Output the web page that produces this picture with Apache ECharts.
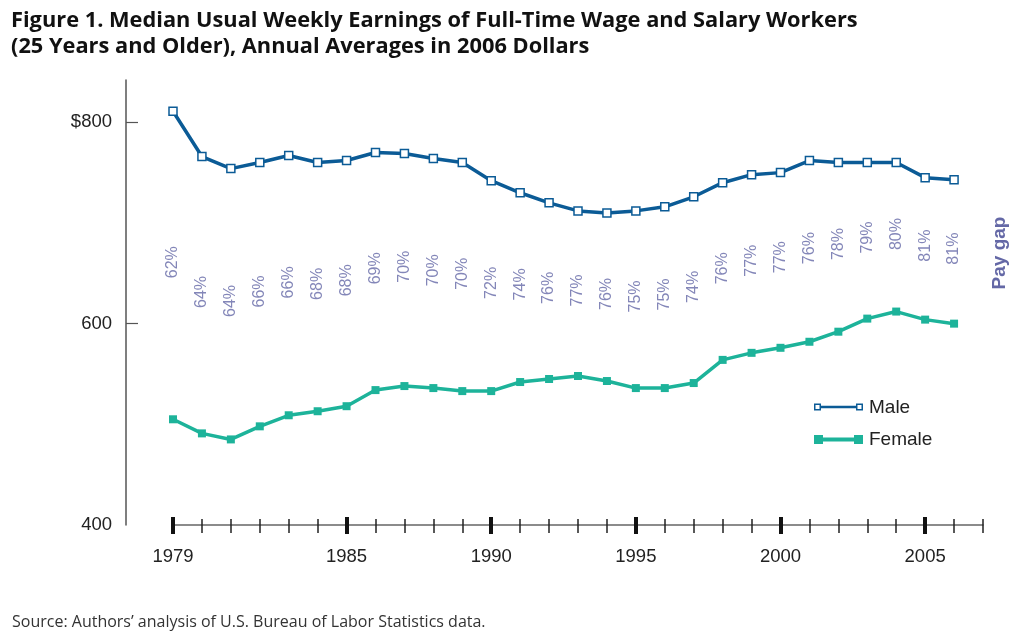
<!DOCTYPE html>
<html><head><meta charset="utf-8">
<script src="https://cdn.jsdelivr.net/npm/echarts@6/dist/echarts.min.js"></script>
<style>html,body{margin:0;padding:0;background:#fff}#c{width:1024px;height:638px}</style>
</head><body><div id="c"></div>
<script>
const years = ['1979','1980','1981','1982','1983','1984','1985','1986','1987','1988','1989','1990','1991','1992','1993','1994','1995','1996','1997','1998','1999','2000','2001','2002','2003','2004','2005','2006','2007'];
const male = [811,766,754,760,767,760,762,770,769,764,760,742,730,720,712,710,712,716,726,740,748,750,762,760,760,760,745,743];
const female = [505,491,485,498,509,513,518,534,538,536,533,533,542,545,548,543,536,536,541,564,571,576,582,592,605,612,604,600];
const payGap = ['62%','64%','64%','66%','66%','68%','68%','69%','70%','70%','70%','72%','74%','76%','77%','76%','75%','75%','74%','76%','77%','77%','76%','78%','79%','80%','81%','81%'];
const yLabelValues = [400,600,800];
const yTickValues = [600,800];
const majorYears = ['1979','1985','1990','1995','2000','2005'];

const MALE_C = '#0b5b96', FEMALE_C = '#1db39a', GAP_C = '#6468a6';
const isMajor = (i, v) => majorYears.includes(years[i]);
const gapPos = male.map((m, i) => (m + female[i]) / 2 + 3);

const chart = echarts.init(document.getElementById('c'));
const maleIcon = 'path://M0,0.5L7,0.5L7,7.5L0,7.5Z M1.5,2L1.5,6L5.5,6L5.5,2Z M7,2.8L42,2.8L42,5.2L7,5.2Z M42,0.5L49,0.5L49,7.5L42,7.5Z M43.5,2L43.5,6L47.5,6L47.5,2Z M0,0L0.01,0Z M49,9L49.01,9Z';
const femaleIcon = 'path://M0,0L9,0L9,9L0,9Z M9,2.5L40,2.5L40,6.5L9,6.5Z M40,0L49,0L49,9L40,9Z';
const baseX = {type:'category', data: years, boundaryGap:false, position:'bottom', gridIndex:0};
chart.setOption({
  animation:false,
  backgroundColor:'#fff',
  title:[{
    text:'Figure 1. Median Usual Weekly Earnings of Full-Time Wage and Salary Workers\n(25 Years and Older), Annual Averages in 2006 Dollars',
    left:6, top:3,
    textStyle:{fontFamily:'Open Sans', fontWeight:'bold', fontSize:21.8, lineHeight:26, color:'#111'}
  },{
    text:'Source: Authors\u2019 analysis of U.S. Bureau of Labor Statistics data.',
    left:7, top:609,
    textStyle:{fontFamily:'Open Sans', fontWeight:'normal', fontSize:16, color:'#333'}
  }],
  grid:{left:173, right:41, top:80, bottom:113, containLabel:false},
  legend:{
    orient:'vertical', left:809, top:393, itemWidth:49, itemHeight:9, itemGap:13,
    textStyle:{fontFamily:'Liberation Sans', fontSize:19, color:'#222', padding:[0,0,0,1]},
    data:[
      {name:'Male', icon:maleIcon, itemStyle:{color:MALE_C, borderWidth:0}},
      {name:'Female', icon:femaleIcon, itemStyle:{color:FEMALE_C, borderWidth:0}}
    ]
  },
  xAxis:[
    Object.assign({}, baseX, {
      axisLine:{show:true, lineStyle:{color:'#666', width:1.5}},
      axisTick:{show:false},
      axisLabel:{interval:isMajor, margin:22, fontFamily:'Liberation Sans', fontSize:18.5, color:'#222'}
    }),
    Object.assign({}, baseX, {
      offset:8,
      axisLine:{show:false},
      axisTick:{show:true, inside:true, length:14, interval:0, lineStyle:{color:'#222', width:1.5}},
      axisLabel:{show:false}
    }),
    Object.assign({}, baseX, {
      offset:9,
      axisLine:{show:false},
      axisTick:{show:true, inside:true, length:17, interval:isMajor, lineStyle:{color:'#111', width:4}},
      axisLabel:{show:false}
    })
  ],
  yAxis:{
    type:'value', min:400, max:842, position:'left', offset:47,
    splitLine:{show:false},
    axisLine:{show:true, lineStyle:{color:'#555', width:1.5}},
    axisTick:{show:true, inside:true, length:12, customValues:yTickValues, lineStyle:{color:'#555', width:1.2}},
    axisLabel:{customValues:yLabelValues, margin:14, fontFamily:'Liberation Sans', fontSize:18.5, color:'#222',
      formatter: v => v === 800 ? '$800' : String(v)}
  },
  series:[
    {name:'Male', type:'line', data:male, symbol:'rect', symbolSize:8, z:4,
      itemStyle:{color:'#fff', borderColor:MALE_C, borderWidth:1.5},
      lineStyle:{color:MALE_C, width:3.5}},
    {name:'Female', type:'line', data:female, symbol:'rect', symbolSize:8, z:3,
      itemStyle:{color:FEMALE_C},
      lineStyle:{color:FEMALE_C, width:3.5}},
    {name:'gap', type:'scatter', data:gapPos, symbolSize:1, silent:true,
      itemStyle:{color:'rgba(0,0,0,0)'},
      label:{show:true, position:'inside', rotate:90, formatter:p => payGap[p.dataIndex],
        fontFamily:'Liberation Sans', fontSize:16, color:GAP_C}}
  ],
  graphic:[{
    type:'text', x:1000, y:253, rotation:Math.PI/2,
    style:{text:'Pay gap', fill:GAP_C, font:'bold 19px "Liberation Sans"', align:'center', verticalAlign:'middle'}
  }]
});
</script></body></html>
